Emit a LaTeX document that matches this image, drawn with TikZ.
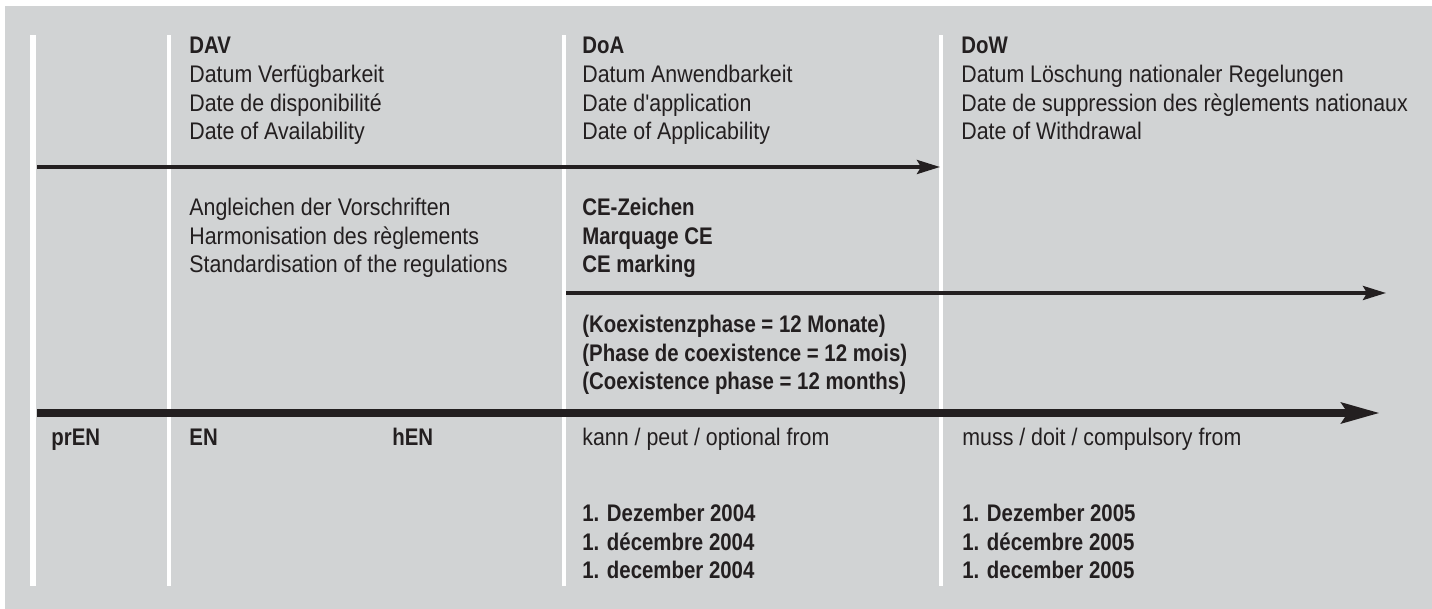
\documentclass[tikz,border=0pt]{standalone}
\usepackage{fontspec}
\setmainfont{Liberation Sans}[Ligatures=TeXOff, FakeStretch=0.89, BoldFeatures={FakeStretch=0.85}]
\usetikzlibrary{arrows.meta}
\definecolor{panel}{HTML}{D1D3D4}
\definecolor{ink}{HTML}{231F20}

\begin{document}
\begin{tikzpicture}[x=0.5pt, y=-0.5pt,
        txt/.style={anchor=base west, inner sep=0pt, align=left, text=ink,
            font=\fontsize{12}{14.4}\selectfont},
        bold/.style={txt, font=\fontsize{12}{14.4}\selectfont\bfseries},
        bar/.style={white, line width=2pt},
        thin/.style={ink, line width=1.75pt, -{Stealth[length=11.5pt, width=7pt, inset=2pt]}},
        thick/.style={ink, line width=4pt, -{Stealth[length=19pt, width=10pt, inset=3pt]}}]
        \useasboundingbox (0, 0) rectangle (1432, 609);
        \fill[panel] (5, 6) rectangle (1432, 609);

        % white dividers
        \draw[bar, line width=3pt] (33, 35) -- (33, 586);
        \draw[bar] (169, 35) -- (169, 586);
        \draw[bar] (564, 35) -- (564, 586);
        \draw[bar] (941, 35) -- (941, 586);

        % dates (base = last line)
        \node[txt] (dav) at (189, 140) {\textbf{DAV}\\Datum Verfügbarkeit\\Date de disponibilité\\Date of Availability};
        \node[txt] (doa) at (582, 140) {\textbf{DoA}\\Datum Anwendbarkeit\\Date d'application\\Date of Applicability};
        \node[txt] (dow) at (961, 140) {\textbf{DoW}\\Datum Löschung nationaler Regelungen\\Date de suppression des règlements nationaux\\Date of Withdrawal};

        \node[txt] (harm) at (189, 273) {Angleichen der Vorschriften\\Harmonisation des règlements\\Standardisation of the regulations};
        \node[bold] (ce) at (582, 273) {CE-Zeichen\\Marquage CE\\CE marking};
        \node[bold] (coex) at (582, 390) {(Koexistenzphase = 12 Monate)\\(Phase de coexistence = 12 mois)\\(Coexistence phase = 12 months)};

        \node[bold] (pren) at (51, 446) {prEN};
        \node[bold] (en) at (189, 446) {EN};
        \node[bold] (hen) at (392, 446) {hEN};
        \node[txt] (opt) at (582, 446) {kann / peut / optional from};
        \node[txt] (comp) at (962, 446) {muss / doit / compulsory from};
        \node[bold] (d04) at (582, 579) {1. Dezember 2004\\1. décembre 2004\\1. december 2004};
        \node[bold] (d05) at (962, 579) {1. Dezember 2005\\1. décembre 2005\\1. december 2005};

        % arrows
        \coordinate (a0) at (37, 167);
        \coordinate (a1) at (940, 167);
        \coordinate (b0) at (566, 293);
        \coordinate (b1) at (1386, 293);
        \coordinate (c0) at (37, 413);
        \coordinate (c1) at (1380, 413);
        \draw[thin] (a0) -- (a1);
        \draw[thin] (b0) -- (b1);
        \draw[thick] (c0) -- (c1);
    \end{tikzpicture}
\end{document}
